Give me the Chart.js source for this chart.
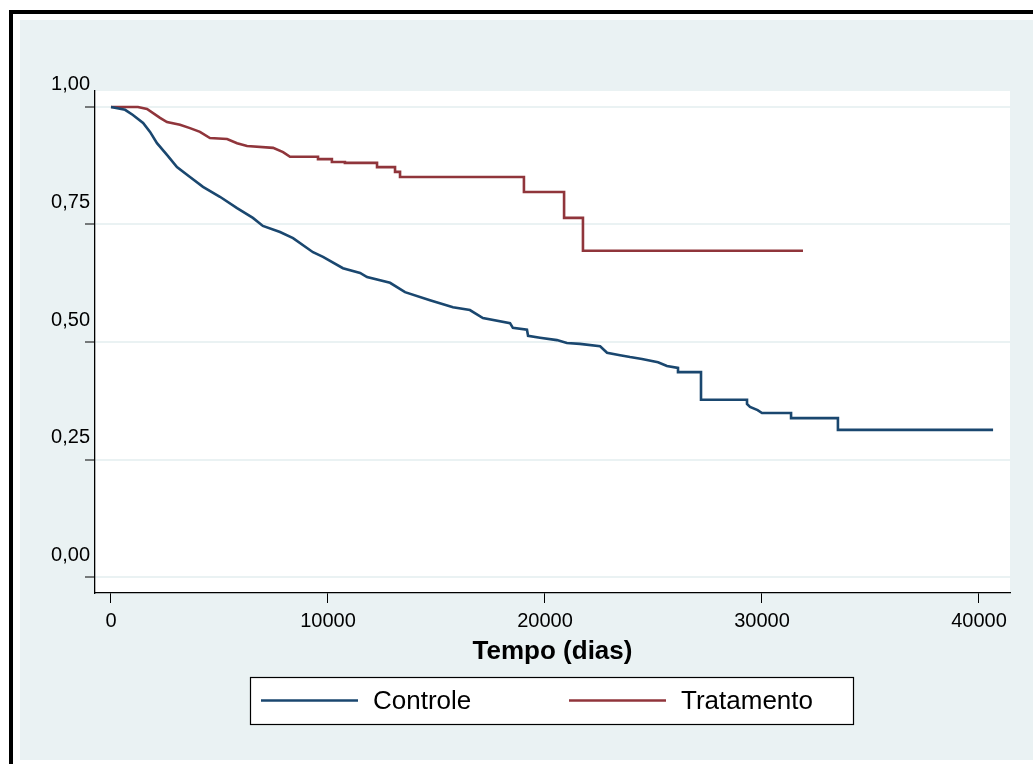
<!DOCTYPE html>
<html>
<head>
<meta charset="utf-8">
<script src="https://cdn.jsdelivr.net/npm/chart.js@4.4.0/dist/chart.umd.min.js"></script>
<style>
  html, body { margin: 0; padding: 0; background: #ffffff; }
  #grafico { display: block; }
</style>
</head>
<body>
<canvas id="grafico" width="1033" height="764"></canvas>
<script>
// Curvas de sobrevida (Kaplan-Meier)
var series = ['Controle', 'Tratamento'];
var cores = ['#1a476f', '#90353b'];

var xTickValores = [0, 10000, 20000, 30000, 40000];
var yTickValores = [0, 0.25, 0.5, 0.75, 1];
var yTickRotulos = ['0,00', '0,25', '0,50', '0,75', '1,00'];

var controleDias = [0, 650, 1010, 1480, 1800, 2120, 2580, 3040, 3640, 4240, 5020, 5810, 6540, 7000, 7790, 8390,
    9310, 9770, 10690, 11480, 11800, 12860, 13550, 14700, 15760, 16540, 17140, 18390, 18520, 19170, 19220,
    19770, 20550, 21010, 21610, 22540, 22860, 23460, 23920, 24470, 25210, 25620, 26130, 26130, 27190, 27190,
    29310, 29310, 29450, 29800, 30000, 31340, 31340, 33500, 33500, 40650];
var controleSobrev = [1.000, 0.994, 0.983, 0.966, 0.947, 0.923, 0.898, 0.872, 0.851, 0.830, 0.809, 0.785, 0.764, 0.747, 0.734, 0.721,
    0.691, 0.681, 0.657, 0.647, 0.638, 0.626, 0.606, 0.589, 0.574, 0.568, 0.551, 0.540, 0.530, 0.526, 0.513,
    0.509, 0.504, 0.498, 0.496, 0.491, 0.477, 0.472, 0.468, 0.464, 0.457, 0.449, 0.445, 0.436, 0.436, 0.377,
    0.377, 0.368, 0.362, 0.355, 0.349, 0.349, 0.338, 0.338, 0.313, 0.313];

var tratamentoDias = [0, 1240, 1660, 2260, 2580, 3180, 3640, 4100, 4560, 5350, 5810, 6270, 7470, 7930, 8250,
    9540, 9540, 10180, 10180, 10780, 10780, 12260, 12260, 13090, 13090, 13320, 13320, 19030, 19030,
    20880, 20880, 21750, 21750, 31890];
var tratamentoSobrev = [1.000, 1.000, 0.996, 0.977, 0.968, 0.962, 0.955, 0.947, 0.934, 0.932, 0.923, 0.917, 0.913, 0.904, 0.894,
    0.894, 0.889, 0.889, 0.883, 0.883, 0.881, 0.881, 0.872, 0.872, 0.862, 0.862, 0.851, 0.851, 0.819,
    0.819, 0.764, 0.764, 0.694, 0.694];

var fonte = "'Liberation Sans', Arial, sans-serif";

function pontos(dias, valores) {
    var out = [];
    for (var i in dias) {
        out.push({x: dias[i], y: valores[i]});
    }
    return out;
}

// fundo do tipo Stata: moldura, regiao do grafico e area branca
var fundo = {
    id: 'fundo',
    beforeDraw: function(chart) {
        var ctx = chart.ctx;
        var a = chart.chartArea;
        ctx.save();
        ctx.fillStyle = '#ffffff';
        ctx.fillRect(0, 0, chart.width, chart.height);
        ctx.fillStyle = '#000000';
        ctx.fillRect(9, 10, chart.width - 9, 4);
        ctx.fillRect(9, 10, 4, chart.height - 10);
        ctx.fillStyle = '#eaf2f3';
        ctx.fillRect(20, 20, chart.width - 20, 740);
        ctx.fillStyle = '#ffffff';
        ctx.fillRect(a.left, a.top, a.right - a.left, a.bottom - a.top);
        ctx.restore();
    }
};

// legenda em caixa abaixo do eixo
var legendaCaixa = {
    id: 'legendaCaixa',
    afterDraw: function(chart) {
        var ctx = chart.ctx;
        var caixa = {x: 250, y: 677, w: 603, h: 47};
        var itens = [{x: 261, tx: 373}, {x: 569, tx: 681}];
        ctx.save();
        ctx.fillStyle = '#ffffff';
        ctx.fillRect(caixa.x, caixa.y, caixa.w, caixa.h);
        ctx.strokeStyle = '#000000';
        ctx.lineWidth = 1.2;
        ctx.strokeRect(caixa.x + 0.5, caixa.y + 0.5, caixa.w, caixa.h);
        ctx.font = '26px ' + fonte;
        ctx.textBaseline = 'middle';
        ctx.fillStyle = '#000000';
        chart.data.datasets.forEach(function(ds, i) {
            var cy = caixa.y + caixa.h / 2;
            ctx.strokeStyle = ds.borderColor;
            ctx.lineWidth = 2.5;
            ctx.beginPath();
            ctx.moveTo(itens[i].x, cy);
            ctx.lineTo(itens[i].x + 97, cy);
            ctx.stroke();
            ctx.fillText(ds.label, itens[i].tx, cy + 1);
        });
        ctx.restore();
    }
};

var context = document.getElementById('grafico').getContext('2d');
var chart = new Chart(context, {
    type: 'line',
    data: {
        datasets: [{
            label: series[0],
            data: pontos(controleDias, controleSobrev),
            borderColor: cores[0],
            backgroundColor: cores[0],
            borderWidth: 2.6,
            pointRadius: 0,
            tension: 0,
            fill: false
        }, {
            label: series[1],
            data: pontos(tratamentoDias, tratamentoSobrev),
            borderColor: cores[1],
            backgroundColor: cores[1],
            borderWidth: 2.6,
            pointRadius: 0,
            tension: 0,
            fill: false
        }]
    },
    options: {
        responsive: false,
        animation: false,
        events: [],
        layout: {
            padding: {top: 91, right: 23, left: 0, bottom: 0}
        },
        plugins: {
            legend: {display: false},
            tooltip: {enabled: false}
        },
        scales: {
            x: {
                type: 'linear',
                min: -737,
                max: 41430,
                afterBuildTicks: function(scale) {
                    scale.ticks = xTickValores.map(function(v) { return {value: v}; });
                },
                afterFit: function(scale) {
                    scale.height = 171;
                },
                grid: {
                    drawOnChartArea: false,
                    drawTicks: true,
                    tickLength: 10,
                    tickColor: '#000000',
                    tickWidth: 1
                },
                border: {display: true, color: '#000000', width: 1.3},
                ticks: {
                    color: '#000000',
                    padding: 6,
                    maxRotation: 0,
                    autoSkip: false,
                    font: {family: fonte, size: 20},
                    callback: function(v) { return String(v); }
                },
                title: {
                    display: true,
                    text: 'Tempo (dias)',
                    color: '#000000',
                    font: {family: fonte, size: 26, weight: 'bold'},
                    padding: {top: 0, bottom: 97}
                }
            },
            y: {
                type: 'linear',
                min: -0.034,
                max: 1.034,
                afterBuildTicks: function(scale) {
                    scale.ticks = yTickValores.map(function(v) { return {value: v}; });
                },
                afterFit: function(scale) {
                    scale.width = 95;
                },
                grid: {
                    color: '#eaf2f3',
                    lineWidth: 2,
                    drawTicks: true,
                    tickLength: 10,
                    tickColor: '#000000',
                    tickWidth: 1
                },
                border: {display: true, color: '#000000', width: 1.3},
                ticks: {
                    color: '#000000',
                    padding: -5,
                    labelOffset: -22,
                    autoSkip: false,
                    font: {family: fonte, size: 20},
                    callback: function(v, i) { return yTickRotulos[i]; }
                }
            }
        }
    },
    plugins: [fundo, legendaCaixa]
});
</script>
</body>
</html>
